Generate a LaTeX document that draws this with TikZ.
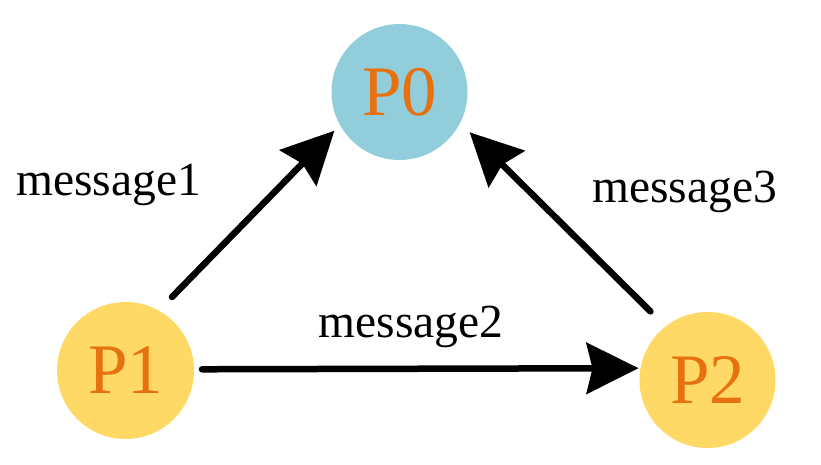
\documentclass[tikz,border=0pt]{standalone}
\usepackage{fontspec}
\setmainfont{Liberation Serif}
\newfontfamily\pfont{Liberation Serif}
\usetikzlibrary{arrows.meta}
\definecolor{pblue}{HTML}{92CDDC}
\definecolor{pyellow}{HTML}{FFD966}
\definecolor{porange}{HTML}{E8710F}
\begin{document}
\begin{tikzpicture}[x=1pt,y=-1pt,
  proc/.style={circle,minimum size=136pt,inner sep=0pt,outer sep=0pt,draw=none,
    text=porange,font=\pfont\fontsize{71}{80}\selectfont},
  msg/.style={-{Stealth[length=52pt,width=51pt,inset=6pt]},line width=6.5pt,line cap=round,black},
  lbl/.style={anchor=base,inner sep=0pt,font=\pfont\fontsize{47.5}{55}\selectfont}]
\useasboundingbox (0,0) rectangle (821,465);
\node[proc,fill=pblue] (P0) at (399.5,92) {P0};
\node[proc,fill=pyellow,minimum size=137pt] (P1) at (125.5,370.5) {P1};
\node[proc,fill=pyellow] (P2) at (707.5,380) {P2};
\draw[msg,shorten <=19pt,shorten >=8pt] (P1.61.5) -- (P0.209);
\draw[msg,shorten <=8pt,shorten >=2pt] (P1.1.25) -- (P2.170.7);
\draw[msg,shorten <=21.4pt,shorten >=13.4pt] (P2.128.4) -- (P0.333);
\node[lbl] (m1) at (108.5,196) {message1};
\node[lbl] (m2) at (411,337) {message2};
\node[lbl] (m3) at (684.5,202) {message3};
\end{tikzpicture}
\end{document}
